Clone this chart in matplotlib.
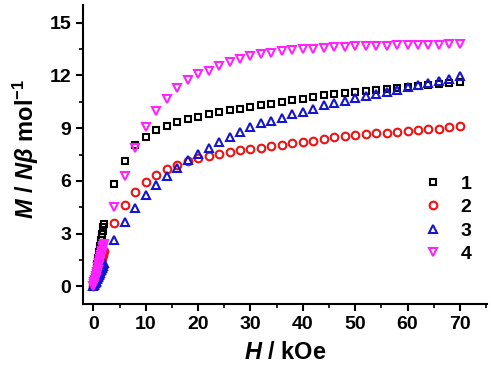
import numpy as np
import matplotlib
matplotlib.use('Agg')
import matplotlib.pyplot as plt
from matplotlib.ticker import MultipleLocator

plt.rcParams['font.family'] = 'Liberation Sans'
plt.rcParams['font.weight'] = 'bold'
plt.rcParams['mathtext.fontset'] = 'custom'
plt.rcParams['mathtext.it'] = 'Liberation Sans:italic:bold'
plt.rcParams['mathtext.rm'] = 'Liberation Sans:bold'
plt.rcParams['mathtext.bf'] = 'Liberation Sans:bold'

# field values (kOe): dense sweep up to 2 kOe, then 2 kOe steps
H_low = [0.0, 0.1, 0.2, 0.3, 0.4, 0.5, 0.6, 0.7, 0.8, 0.9, 1.0,
         1.1, 1.2, 1.3, 1.4, 1.5, 1.6, 1.7, 1.8, 1.9, 2.0]
H_high = [4, 6, 8, 10, 12, 14, 16, 18, 20, 22, 24, 26, 28, 30, 32, 34, 36,
          38, 40, 42, 44, 46, 48, 50, 52, 54, 56, 58, 60, 62, 64, 66, 68, 70]
H = H_low + H_high

# magnetisation (N beta / mol)
M1 = [0.0, 0.18, 0.36, 0.53, 0.71, 0.89, 1.07, 1.25, 1.42, 1.6, 1.78,
      1.96, 2.13, 2.31, 2.49, 2.66, 2.84, 3.0, 3.17, 3.36, 3.56,
      5.81, 7.12, 8.06, 8.52, 8.9, 9.14, 9.35, 9.52, 9.66, 9.83, 9.92, 10.02,
      10.11, 10.2, 10.3, 10.39, 10.48, 10.58, 10.67, 10.76, 10.86, 10.95,
      11.01, 11.07, 11.13, 11.19, 11.25, 11.31, 11.36, 11.42, 11.48, 11.53,
      11.59, 11.65]
M2 = [0.0, 0.1, 0.2, 0.3, 0.4, 0.5, 0.6, 0.7, 0.8, 0.9, 1.0,
      1.1, 1.2, 1.3, 1.4, 1.5, 1.6, 1.7, 1.8, 1.9, 2.0,
      3.6, 4.66, 5.4, 5.96, 6.33, 6.69, 6.93, 7.12, 7.3, 7.42, 7.54, 7.64,
      7.74, 7.83, 7.9, 7.98, 8.06, 8.14, 8.22, 8.3, 8.38, 8.52,
      8.56, 8.6, 8.65, 8.7, 8.75, 8.8, 8.84, 8.88, 8.93, 8.98, 9.04, 9.12]
M3 = [0.0, 0.07, 0.13, 0.2, 0.26, 0.33, 0.4, 0.46, 0.53, 0.59, 0.66,
      0.73, 0.79, 0.86, 0.92, 0.99, 1.06, 1.12, 1.19, 1.25, 1.32,
      2.66, 3.65, 4.46, 5.19, 5.75, 6.3, 6.74, 7.17, 7.52, 7.88, 8.2, 8.5,
      8.78, 9.04, 9.27, 9.42, 9.59, 9.78, 9.93, 10.11, 10.3, 10.45,
      10.57, 10.7, 10.82, 10.95, 11.07, 11.2, 11.32, 11.45, 11.57, 11.7,
      11.82, 11.95]
M4 = [0.0, 0.12, 0.24, 0.36, 0.48, 0.6, 0.72, 0.84, 0.96, 1.08, 1.2,
      1.32, 1.44, 1.56, 1.68, 1.8, 1.92, 2.04, 2.16, 2.28, 2.4,
      4.5, 6.3, 7.87, 9.08, 9.98, 10.64, 11.27, 11.74, 12.08, 12.27, 12.55,
      12.78, 12.96, 13.11, 13.2, 13.3, 13.39, 13.45, 13.48, 13.52, 13.58,
      13.62, 13.64, 13.66, 13.67, 13.68, 13.7, 13.71, 13.72, 13.73, 13.74,
      13.75, 13.76, 13.78]

labels = ['1', '2', '3', '4']
colors = ['black', '#ee1111', '#1515cc', '#ff22ff']
markers = ['s', 'o', '^', 'v']
msizes = [5.0, 5.5, 6.0, 6.0]

fig = plt.figure(figsize=(4.91, 3.65), dpi=100)
ax = fig.add_axes([0.169, 0.167, 0.823, 0.819])

for M, lab, c, mk, ms in zip([M1, M2, M3, M4], labels, colors, markers, msizes):
    ax.plot(H, M, linestyle='none', marker=mk, markersize=ms,
            markerfacecolor='none', markeredgecolor=c, markeredgewidth=1.5,
            label=lab)

ax.set_xlim(-2, 75.2)
ax.set_ylim(-1, 16)
ax.xaxis.set_major_locator(MultipleLocator(10))
ax.xaxis.set_minor_locator(MultipleLocator(5))
ax.yaxis.set_major_locator(MultipleLocator(3))
ax.yaxis.set_minor_locator(MultipleLocator(1.5))

for side in ['top', 'right']:
    ax.spines[side].set_visible(False)
for side in ['left', 'bottom']:
    ax.spines[side].set_linewidth(1.5)

ax.tick_params(which='major', direction='out', length=5, width=1.5,
               labelsize=14)
ax.tick_params(which='minor', direction='out', length=3, width=1.2)

ax.set_xlabel(r'$H$ / kOe', fontsize=17, fontweight='bold')
ax.set_ylabel(r'$M$ / $N\beta$ mol$^{-1}$', fontsize=17, fontweight='bold')
ax.xaxis.set_label_coords(0.5, -0.125)
ax.yaxis.set_label_coords(-0.105, 0.52)

ax.legend(loc='upper left', bbox_to_anchor=(0.80, 0.49), frameon=False,
          numpoints=1, handlelength=1.0, handletextpad=0.9, labelspacing=0.3,
          fontsize=14)

fig.savefig('out.png', dpi=100)
